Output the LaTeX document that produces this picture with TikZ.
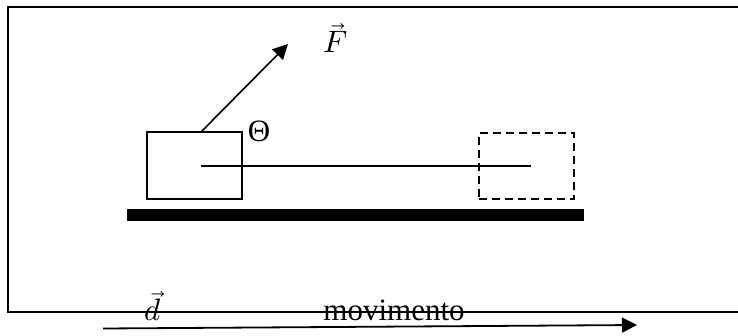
\documentclass[tikz,border=0pt]{standalone}
\usepackage{fontspec}
\usepackage{unicode-math}
\setmainfont{Liberation Serif}
\setmathfont{Latin Modern Math}
\usepackage{tikz}
\usetikzlibrary{positioning, arrows.meta}

\begin{document}
\begin{tikzpicture}[
  x=1pt, y=-1pt,
  every node/.style={inner sep=0pt, outer sep=0pt},
  block/.style={
    rectangle, draw=black, line width=1.2pt,
    minimum width=95pt, minimum height=67pt
  },
  ghost/.style={
    rectangle, draw=black, line width=1.3pt, dash pattern=on 8pt off 5pt,
    minimum width=95pt, minimum height=66pt
  },
  floorbar/.style={
    rectangle, fill=black, minimum width=457pt, minimum height=12pt
  },
  lbl/.style={font=\fontsize{31}{36}\selectfont, anchor=center},
  arr/.style={-{Triangle[length=15pt, width=15pt]}, line width=1.8pt},
]
\useasboundingbox (0,0) rectangle (738,335);

% Moldura
\draw[line width=1.5pt] (738,7) -- (8,7) -- (8,312) -- (738,312);

% Bloco e posicao final
\node[block] (block) at (194.5,165.5) {};
\node[ghost] (ghost) at (526.5,166) {};
\node[floorbar] (floor) at (355.5,215) {};

\coordinate (start) at (201,166);
\coordinate (stop) at (531,166);
\draw[line width=1.2pt] (start) -- (stop);

% Forca aplicada
\coordinate (pull) at (201,132);
\coordinate (pulltip) at (288,44);
\draw[arr, line width=1.6pt] (pull) -- (pulltip);
\node[lbl] (Flabel) at (336,38) {$\vec{F}$};
\node[lbl] (theta) at (259,131) {Θ};

% Deslocamento
\coordinate (dstart) at (103,328.5);
\coordinate (dend) at (637,325);
\draw[arr] (dstart) -- (dend);
\node[lbl] (dlabel) at (153,306) {$\vec{d}$};
\node[lbl, anchor=base] (mov) at (394,320) {movimento};

\end{tikzpicture}
\end{document}
